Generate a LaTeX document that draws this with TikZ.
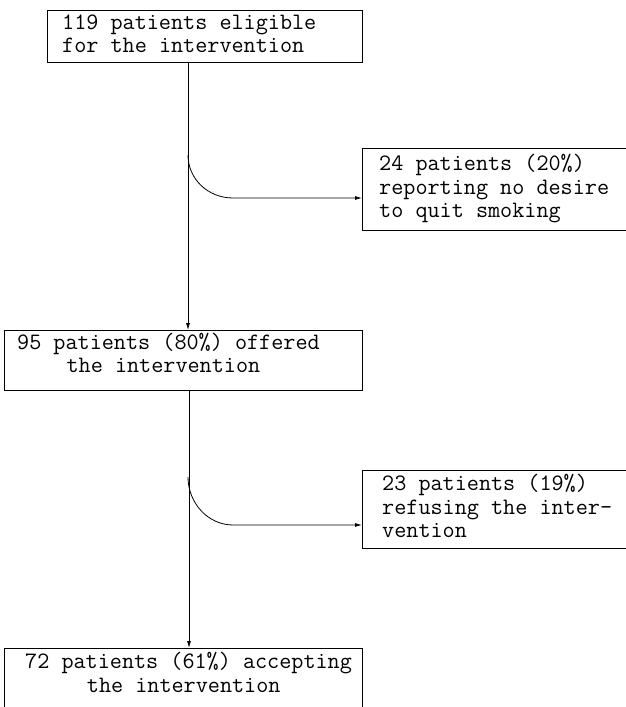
\documentclass[tikz,border=0pt]{standalone}
\usepackage{fontspec}
\usetikzlibrary{arrows.meta}
\begin{document}
\begin{tikzpicture}[x=1pt,y=-1pt,
  box/.style={draw, line width=0.8pt, inner sep=0pt, anchor=north west},
  txt/.style={inner sep=0pt, anchor=base west, font=\ttfamily\fontsize{23.5}{23.5}\selectfont},
  flow/.style={line width=0.8pt, -{Latex[length=7pt,width=4pt]}}]
\clip (0,0) rectangle (626,707);
\fill[white] (0,0) rectangle (626,707);
% boxes
\node[box, minimum width=315pt, minimum height=52pt] (b1) at (47,10) {};
\node[box, minimum width=358pt, minimum height=60pt] (b2) at (4,330) {};
\node[box, minimum width=320pt, minimum height=82pt] (b3) at (362,148) {};
\node[box, minimum width=320pt, minimum height=78pt] (b4) at (362,470) {};
\node[box, minimum width=358pt, minimum height=90pt] (b5) at (4,648) {};
% texts
\node[txt] (t1a) at (62,29) {119 patients eligible};
\node[txt] (t1b) at (62,52.5) {for the intervention};
\node[txt] (t2a) at (17,349) {95 patients (80\%) offered};
\node[txt] (t2b) at (66.4,372.5) {the intervention};
\node[txt] (t3a) at (379,170.5) {24 patients (20\%)};
\node[txt] (t3b) at (379,194) {reporting no desire};
\node[txt] (t3c) at (379,217.5) {to quit smoking};
\node[txt] (t4a) at (382,490.5) {23 patients (19\%)};
\node[txt] (t4b) at (382,514) {refusing the inter-};
\node[txt] (t4c) at (382,537.5) {vention};
\node[txt] (t5a) at (25,668) {72 patients (61\%) accepting};
\node[txt] (t5b) at (86.7,692) {the intervention};
% connectors
\coordinate (mx) at (188,0);
\coordinate (mx2) at (189,0);
\draw[flow] (b1.south -| mx) -- (b2.north -| mx);
\draw[flow] (b2.south -| mx2) -- (b5.north -| mx2);
\coordinate (s1) at (188,155);
\coordinate (k1) at (233,198);
\draw[flow] (s1) .. controls (188,179) and (208,198) .. (k1) -- (k1 -| b3.west);
\coordinate (s2) at (188,477);
\coordinate (k2) at (233,525);
\draw[flow] (s2) .. controls (188,503) and (208,525) .. (k2) -- (k2 -| b4.west);
\end{tikzpicture}
\end{document}
